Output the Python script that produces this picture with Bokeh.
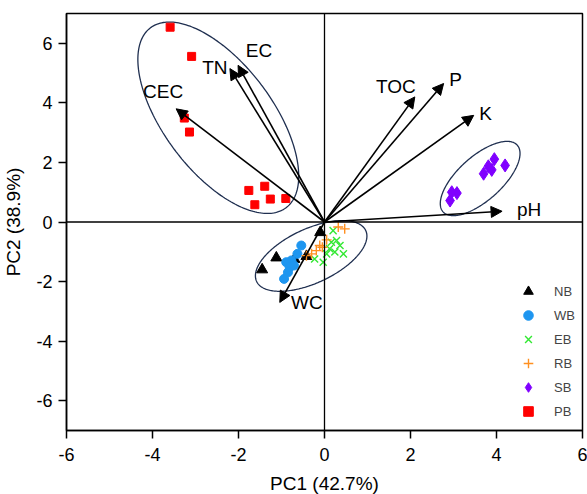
import numpy as np
from bokeh.plotting import figure
from bokeh.models import (Range1d, Span, Arrow, NormalHead, Legend, LegendItem,
                          ColumnDataSource, FixedTicker)
from bokeh.embed import file_html
from bokeh.resources import INLINE

# ---- scores (PC1, PC2) per group ----
nb_x = [-0.10, -1.12, -1.45, -0.70, -0.42]
nb_y = [-0.35, -1.20, -1.60, -1.25, -1.15]
wb_x = [-0.54, -0.63, -0.77, -0.89, -0.81, -0.85, -0.94, -0.71]
wb_y = [-0.79, -1.07, -1.29, -1.35, -1.52, -1.69, -1.91, -1.46]
eb_x = [0.20, 0.28, 0.16, 0.36, 0.12, 0.24, 0.05, 0.44, -0.23, -0.03]
eb_y = [-0.29, -0.62, -0.68, -0.79, -0.90, -1.01, -1.07, -1.07, -1.24, -1.35]
rb_x = [0.32, 0.47, -0.11, -0.19, -0.30, -0.42, -0.05, 0.05]
rb_y = [-0.17, -0.23, -0.79, -0.96, -1.07, -1.13, -0.85, -0.60]
sb_x = [3.95, 4.20, 3.81, 3.89, 3.70, 2.96, 3.08, 2.92]
sb_y = [2.11, 1.90, 1.87, 1.75, 1.62, 1.00, 0.97, 0.72]
pb_x = [-3.59, -3.09, -3.26, -3.14, -1.76, -1.39, -1.62, -1.26, -0.90]
pb_y = [6.54, 5.56, 3.49, 3.02, 1.06, 1.20, 0.58, 0.77, 0.79]

# ---- loadings (arrow tips) ----
var_names = ["EC", "TN", "CEC", "TOC", "P", "K", "pH", "WC"]
load_x = [-2.01, -2.20, -3.45, 2.10, 2.77, 3.47, 4.13, -1.04]
load_y = [5.26, 5.15, 3.80, 4.20, 4.65, 3.58, 0.36, -2.70]

# ---- group ellipses: centre, semi-axes (x units), angle (deg) ----
ell_cx = [-2.47, -0.31, 3.62]
ell_cy = [3.50, -1.14, 1.46]
ell_a = [2.62, 1.40, 1.16]
ell_b = [1.26, 0.63, 0.51]
ell_ang = [-53.0, 25.0, 42.0]

xlabel = "PC1 (42.7%)"
ylabel = "PC2 (38.9%)"
x_ticks = [-6, -4, -2, 0, 2, 4, 6]
y_ticks = [-6, -4, -2, 0, 2, 4, 6]
group_names = ["NB", "WB", "EB", "RB", "SB", "PB"]

FONT = "Liberation Sans"
FW, FH = 516, 417
XR, YR = (-6, 6), (-7, 7)

p = figure(frame_width=FW, frame_height=FH, x_range=Range1d(*XR), y_range=Range1d(*YR),
           output_backend="svg", toolbar_location=None,
           min_border_left=57, min_border_right=6, min_border_top=13, min_border_bottom=62)
p.background_fill_color = "white"
p.border_fill_color = "white"
p.grid.visible = False
p.outline_line_color = "black"
p.outline_line_width = 1.5

for ax, ticks in ((p.xaxis[0], x_ticks), (p.yaxis[0], y_ticks)):
    ax.ticker = FixedTicker(ticks=ticks)
    ax.major_label_overrides = {tk: str(tk) for tk in ticks}
    ax.axis_line_width = 1.5
    ax.major_tick_line_width = 1.5
    ax.major_tick_in = 0
    ax.major_tick_out = 8
    ax.minor_tick_line_color = None
    ax.major_label_text_font = FONT
    ax.major_label_text_font_size = "18px"
    ax.major_label_text_color = "black"
    ax.axis_label_text_font = FONT
    ax.axis_label_text_font_size = "19px"
    ax.axis_label_text_font_style = "normal"
    ax.axis_label_text_color = "black"
p.xaxis.major_label_standoff = 9
p.xaxis.axis_label_standoff = 9
p.yaxis.major_label_standoff = 6
p.yaxis.axis_label_standoff = 9
p.xaxis.axis_label = xlabel
p.yaxis.axis_label = ylabel

# ellipses
ppx = FW / (XR[1] - XR[0])
ppy = FH / (YR[1] - YR[0])
t = np.linspace(0, 2 * np.pi, 240)
for cx, cy, a, b, ang in zip(ell_cx, ell_cy, ell_a, ell_b, ell_ang):
    th = np.deg2rad(ang)
    sx = a * np.cos(t) * np.cos(th) - b * np.sin(t) * np.sin(th)
    sy = a * np.cos(t) * np.sin(th) + b * np.sin(t) * np.cos(th)
    p.line(cx + sx, cy + sy * ppx / ppy, line_color="#1f2f50", line_width=1.3)

# reference lines
p.add_layout(Span(location=0, dimension="width", line_color="black", line_width=1.3))
p.add_layout(Span(location=0, dimension="height", line_color="black", line_width=1.3))

r_nb = p.scatter(nb_x, nb_y, marker="triangle", size=11, color="black")
r_wb = p.scatter(wb_x, wb_y, marker="circle", size=9, color="#1e96f0")
r_eb = p.scatter(eb_x, eb_y, marker="x", size=10, line_color="#33e833", line_width=1.4)
r_rb = p.scatter(rb_x, rb_y, marker="cross", size=10, line_color="#ff9020", line_width=1.4)
r_sb = p.scatter(sb_x, sb_y, marker="diamond", size=13, color="#8000ff")
r_pb = p.scatter(pb_x, pb_y, marker="square", size=8, color="#ff0000")

# loading arrows
asrc = ColumnDataSource(dict(x0=[0] * len(load_x), y0=[0] * len(load_y), x1=load_x, y1=load_y))
p.add_layout(Arrow(source=asrc, x_start="x0", y_start="y0", x_end="x1", y_end="y1",
                   line_color="black", line_width=1.6,
                   end=NormalHead(size=11, fill_color="black", line_color="black", line_width=1)))

lab_dx = [21, -15, -13, -19, 12, 12, 27, 27]
lab_dy = [-15, -1, -17, -10, -4, -2, -2, 0]
tsrc = ColumnDataSource(dict(x=load_x, y=load_y, text=var_names, dx=lab_dx, dy=lab_dy))
p.text(x="x", y="y", text="text", x_offset="dx", y_offset="dy", source=tsrc,
       text_align="center", text_baseline="middle", text_font={"value": FONT},
       text_font_size="19px", text_color="black")

legend = Legend(items=[LegendItem(label=l, renderers=[r]) for l, r in
                       zip(group_names, [r_nb, r_wb, r_eb, r_rb, r_sb, r_pb])],
                location=(450, 7), glyph_width=24, glyph_height=24, spacing=0,
                label_standoff=14, label_height=20, padding=0, margin=0,
                border_line_color=None, background_fill_alpha=0,
                label_text_font=FONT, label_text_font_size="13px")
p.add_layout(legend)

open("out.html", "w").write(file_html(p, INLINE))
